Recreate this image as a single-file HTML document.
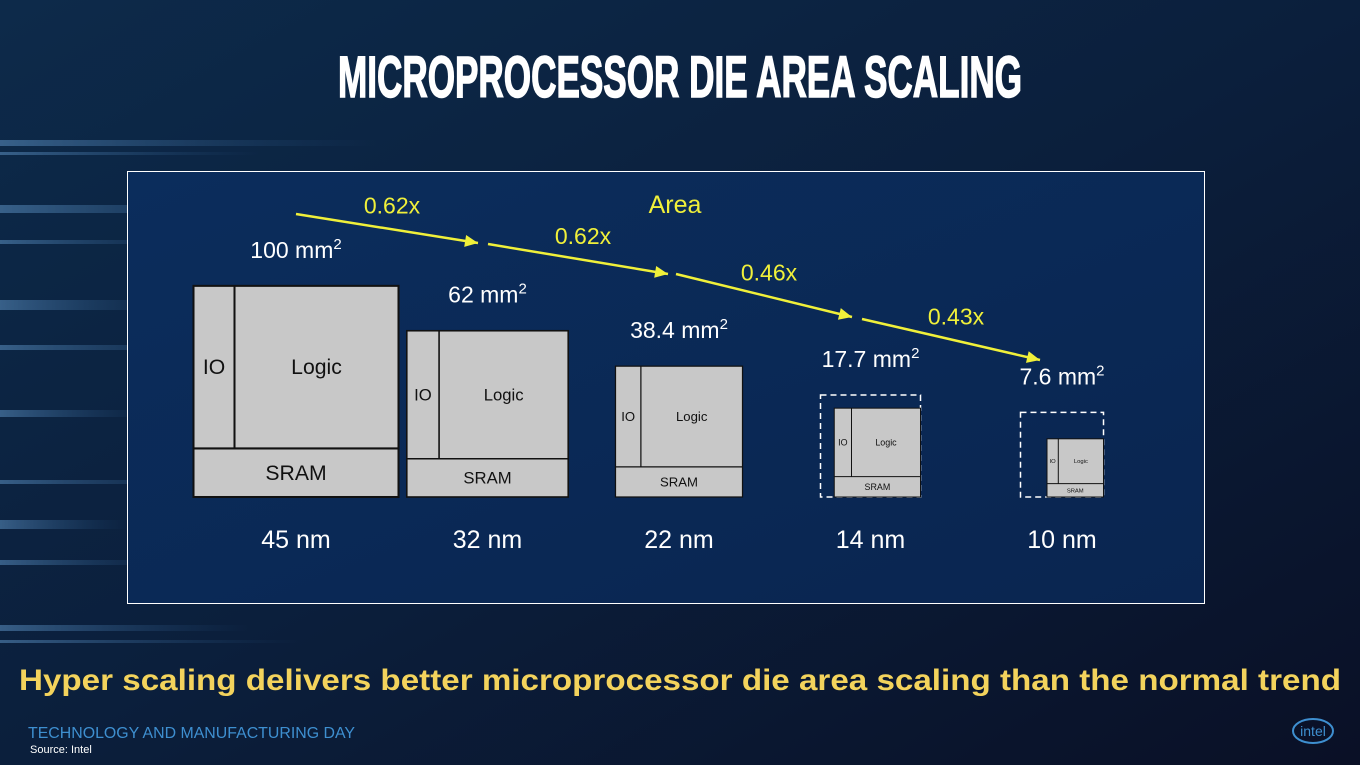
<!DOCTYPE html>
<html><head><meta charset="utf-8"><style>
html,body{margin:0;padding:0;width:1360px;height:765px;overflow:hidden;background:#0b1a33}
svg{display:block}
text{font-family:"Liberation Sans",sans-serif}
</style></head><body>
<svg id="s" width="1360" height="765" viewBox="0 0 1360 765">
<defs>
<linearGradient id="bg" x1="0" y1="0" x2="1" y2="1">
<stop offset="0" stop-color="#0d2a4a"/><stop offset="0.5" stop-color="#0b1f3c"/><stop offset="1" stop-color="#0a1026"/>
</linearGradient>
<linearGradient id="panel" x1="0" y1="0" x2="1" y2="1">
<stop offset="0" stop-color="#0b2d5c"/><stop offset="1" stop-color="#0a2550"/>
</linearGradient>
<linearGradient id="streak" x1="0" y1="0" x2="1" y2="0">
<stop offset="0" stop-color="#5b8fc0" stop-opacity="0.55"/><stop offset="1" stop-color="#2a5a8c" stop-opacity="0"/>
</linearGradient>
</defs>
<rect width="1360" height="765" fill="url(#bg)"/>
<g id="streaks"></g>
<text x="680" y="97" text-anchor="middle" fill="#fff" stroke="#fff" stroke-width="1.5" font-size="58" font-weight="bold" textLength="684" lengthAdjust="spacingAndGlyphs" style="font-family:'Liberation Sans Narrow','Liberation Sans',sans-serif">MICROPROCESSOR DIE AREA SCALING</text>
<rect x="127.5" y="171.5" width="1077" height="432" fill="url(#panel)" stroke="#fff" stroke-width="1"/>
<text x="675" y="213" text-anchor="middle" fill="#f0f03a" font-size="25">Area</text>
<g id="chart"></g>
<text x="680" y="690" text-anchor="middle" fill="#f3d35c" font-size="30" font-weight="bold" textLength="1322" lengthAdjust="spacingAndGlyphs">Hyper scaling delivers better microprocessor die area scaling than the normal trend</text>
<text x="28" y="738" fill="#3e8fd0" font-size="16" textLength="327" lengthAdjust="spacingAndGlyphs">TECHNOLOGY AND MANUFACTURING DAY</text>
<text x="30" y="753" fill="#fff" font-size="11">Source: Intel</text>
<g>
<ellipse cx="1313" cy="731" rx="20" ry="12" fill="none" stroke="#3e8fd0" stroke-width="2"/>
<text x="1313" y="736" text-anchor="middle" fill="#3e8fd0" font-size="14">intel</text>
</g>
</svg>
<script>
const nodes=["45 nm","32 nm","22 nm","14 nm","10 nm"];
const areas=[100,62,38.4,17.7,7.6];
const areaLabels=["100","62","38.4","17.7","7.6"];
const normalAreas=[0,0,0,23.8,16.4];
const ratios=["0.62x","0.62x","0.46x","0.43x"];
const NS="http://www.w3.org/2000/svg";
const s=document.getElementById('s');
function mk(tag,at,parent){const e=document.createElementNS(NS,tag);for(const k in at)e.setAttribute(k,at[k]);(parent||s).appendChild(e);return e;}
// streaks (decorative)
const sg=document.getElementById('streaks');
[[140,6,380],[152,3,260],[205,8,300],[240,4,200],[300,10,180],[345,5,240],[410,7,150],[480,4,220],[520,9,130],[560,5,170],[625,6,250],[640,3,300]].forEach(a=>{
const r=mk('rect',{x:0,y:a[0],width:a[2],height:a[1],fill:'url(#streak)'},sg);


});
const g=document.getElementById('chart');
const scale=20.5, base=497;
const cx=i=>296+i*191.5;
const side=a=>Math.sqrt(a)*scale;
// arrow layout anchors (x start offset, y start, x end offset, y end)
const arrowLayout=[[296,214,478,243],[488,244,668,274],[676,274,852,317],[862,319,1040,360]];
areas.forEach((a,i)=>{
  const w=side(a), h=w*1.03;
  let right=cx(i)+w/2;
  let labelTop=base-h;
  if(normalAreas[i]>0){
    const nw=side(normalAreas[i]), nh=nw*1.02;
    const dx=cx(i)-nw/2, dy=base-nh;
    const d=mk('rect',{x:dx,y:dy,width:nw,height:nh,fill:'none',stroke:'#fff','stroke-width':1.5,'stroke-dasharray':'6,4'},g);
    
    
    right=dx+nw; labelTop=dy;
  }
  const x=right-w, y=base-h;
  const grp=mk('g',{},g);
  
  
  const sw=Math.max(1,2*w/203);
  mk('rect',{x:x,y:y,width:w,height:h,fill:'#c8c8c8',stroke:'#111','stroke-width':sw},grp);
  const io=x+w*0.2, sr=y+h*0.77;
  mk('line',{x1:io,y1:y,x2:io,y2:sr,stroke:'#111','stroke-width':sw},grp);
  mk('line',{x1:x,y1:sr,x2:x+w,y2:sr,stroke:'#111','stroke-width':sw},grp);
  const f=w/203;
  const t1=mk('text',{x:(x+io)/2,y:(y+sr)/2+7*f,'text-anchor':'middle','font-size':21*f,fill:'#111'},grp);t1.textContent='IO';
  const t2=mk('text',{x:(io+x+w)/2,y:(y+sr)/2+7*f,'text-anchor':'middle','font-size':21*f,fill:'#111'},grp);t2.textContent='Logic';
  const t3=mk('text',{x:x+w/2,y:(sr+y+h)/2+7*f,'text-anchor':'middle','font-size':21*f,fill:'#111'},grp);t3.textContent='SRAM';
  const lab=mk('text',{x:cx(i),y:labelTop-28,'text-anchor':'middle','font-size':23,fill:'#fff'},g);
  lab.innerHTML=areaLabels[i]+' mm<tspan font-size="15" dy="-9">2</tspan>';
  
  
  const nl=mk('text',{x:cx(i),y:548,'text-anchor':'middle','font-size':25,fill:'#fff'},g);
  nl.textContent=nodes[i];
  
  
});
ratios.forEach((r,i)=>{
  const [ax1,ay1,x2,y2]=arrowLayout[i];
  const ln=mk('line',{x1:ax1,y1:ay1,x2:x2,y2:y2,stroke:'#f0f03a','stroke-width':2.5},g);
  
  
  const ang=Math.atan2(y2-ay1,x2-ax1);
  const L=13,W=6;
  const p=[[x2,y2],[x2-L*Math.cos(ang)+W*Math.sin(ang),y2-L*Math.sin(ang)-W*Math.cos(ang)],[x2-L*Math.cos(ang)-W*Math.sin(ang),y2-L*Math.sin(ang)+W*Math.cos(ang)]];
  const hd=mk('polygon',{points:p.map(q=>q.join(',')).join(' '),fill:'#f0f03a'},g);
  
  
  const rt=mk('text',{x:(ax1+x2)/2+5,y:(ay1+y2)/2-15,'text-anchor':'middle','font-size':23,fill:'#f0f03a'},g);
  rt.textContent=r;
  
  
});
</script>
</body></html>
